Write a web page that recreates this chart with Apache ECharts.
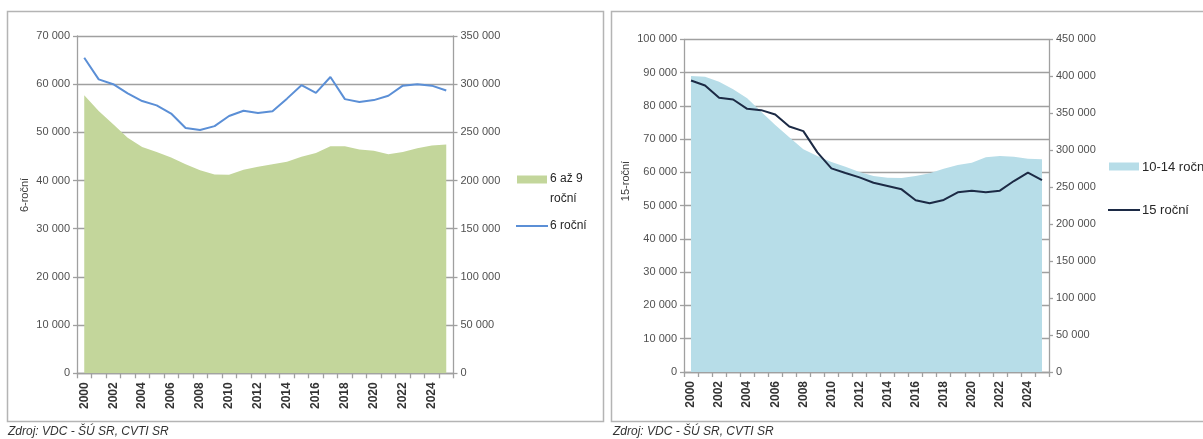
<!DOCTYPE html>
<html>
<head>
<meta charset="utf-8">
<script src="https://cdn.jsdelivr.net/npm/echarts@6/dist/echarts.min.js"></script>
<style>
html,body{margin:0;padding:0;background:#fff;}
#c{width:1203px;height:439px;}
</style>
</head>
<body>
<div id="c"></div>
<script>
// ---- data ----
var years = ['2000','2001','2002','2003','2004','2005','2006','2007','2008','2009','2010','2011','2012','2013','2014','2015','2016','2017','2018','2019','2020','2021','2022','2023','2024','2025'];
// left chart
var sixYear = [65500, 61000, 60000, 58100, 56500, 55600, 53900, 50900, 50500, 51300, 53400, 54500, 54000, 54400, 57000, 59800, 58200, 61500, 56900, 56300, 56700, 57600, 59700, 60000, 59700, 58700];
var sixToNine = [288500, 272200, 258500, 244300, 234900, 229700, 223900, 217000, 210800, 206300, 205900, 211100, 214200, 217000, 219400, 224600, 228700, 235600, 235600, 232200, 230800, 227300, 229700, 233600, 236400, 237400];
// right chart
var fifteenYear = [87600, 86100, 82400, 81900, 79100, 78700, 77400, 73800, 72400, 66000, 61200, 59800, 58500, 56900, 55900, 54900, 51600, 50700, 51700, 54000, 54500, 54000, 54500, 57400, 59900, 57700];
var tenToFourteen = [400400, 399400, 392700, 382300, 370200, 352100, 334100, 317400, 301200, 292200, 284000, 277700, 270500, 265100, 262800, 262400, 265100, 268700, 275000, 280000, 283100, 290400, 292200, 291200, 288500, 287700];
var seriesNames = ['6 až 9 roční', '6 roční', '10-14 roční', '15 roční'];
var axisNames = ['6-roční', '15-roční'];
var sourceText = 'Zdroj: VDC - ŠÚ SR, CVTI SR';

var FONT = '"Liberation Sans", Arial, sans-serif';
var GRID_C = '#a0a0a0';
function fmt(v){ return v === 0 ? '0' : String(v).replace(/\B(?=(\d{3})+(?!\d))/g, ' '); }

function xAx(gi){
  return {
    type:'category', gridIndex:gi, data:years, boundaryGap:true,
    axisLine:{show:true, lineStyle:{color:GRID_C, width:1.3}},
    axisTick:{show:true, interval:0, length:5, lineStyle:{color:GRID_C, width:1.3}},
    axisLabel:{interval:1, rotate:90, margin:9, color:'#333', fontFamily:FONT, fontSize:12, fontWeight:'bold'},
    splitLine:{show:false}
  };
}
function yAx(gi, max, interval, pos, split){
  return {
    type:'value', gridIndex:gi, min:0, max:max, interval:interval, position:pos,
    axisLine:{show:true, lineStyle:{color:GRID_C, width:1.3}},
    axisTick:{show:true, length:4, lineStyle:{color:GRID_C, width:1.3}},
    axisLabel:{formatter:fmt, color:'#505050', fontFamily:FONT, fontSize:11, margin:7},
    splitLine:{show:split, lineStyle:{color:GRID_C, width:1.3}}
  };
}

var chart = echarts.init(document.getElementById('c'), null, {renderer:'canvas'});
var option = {
  backgroundColor:'#fff',
  animation:false,
  grid:[
    {left:77, top:36, width:376.5, height:337.3},
    {left:684, top:39.3, width:365, height:332.7}
  ],
  xAxis:[xAx(0), xAx(1)],
  yAxis:[
    yAx(0, 70000, 10000, 'left', true),
    yAx(0, 350000, 50000, 'right', false),
    yAx(1, 100000, 10000, 'left', true),
    yAx(1, 450000, 50000, 'right', false)
  ],
  series:[
    {name:seriesNames[0], type:'line', xAxisIndex:0, yAxisIndex:1, data:sixToNine, symbol:'none',
     lineStyle:{width:0}, areaStyle:{color:'#c3d69b', opacity:1}, z:2},
    {name:seriesNames[1], type:'line', xAxisIndex:0, yAxisIndex:0, data:sixYear, symbol:'none',
     lineStyle:{width:2, color:'#5b8fd6'}, z:3},
    {name:seriesNames[2], type:'line', xAxisIndex:1, yAxisIndex:3, data:tenToFourteen, symbol:'none',
     lineStyle:{width:0}, areaStyle:{color:'#b7dde8', opacity:1}, z:2},
    {name:seriesNames[3], type:'line', xAxisIndex:1, yAxisIndex:2, data:fifteenYear, symbol:'none',
     lineStyle:{width:2, color:'#1c2a45'}, z:3}
  ],
  graphic:[
    // panel borders
    {type:'rect', shape:{x:7.5, y:11.5, width:596, height:410}, style:{fill:'none', stroke:'#b4b4b4', lineWidth:1.5}, z:0},
    {type:'rect', shape:{x:611.5, y:11.5, width:620, height:410}, style:{fill:'none', stroke:'#b4b4b4', lineWidth:1.5}, z:0},
    // axis names
    {type:'text', x:25, y:195, rotation:Math.PI/2, style:{text:axisNames[0], fill:'#404040', font:'11px ' + FONT, textAlign:'center', textVerticalAlign:'middle'}},
    {type:'text', x:626, y:181, rotation:Math.PI/2, style:{text:axisNames[1], fill:'#404040', font:'11px ' + FONT, textAlign:'center', textVerticalAlign:'middle'}},
    // left legend
    {type:'rect', shape:{x:517, y:175.5, width:30, height:8}, style:{fill:'#c3d69b'}},
    {type:'text', x:550, y:179, style:{text:'6 až 9', fill:'#262626', font:'12px ' + FONT, textVerticalAlign:'middle'}},
    {type:'text', x:550, y:199, style:{text:'roční', fill:'#262626', font:'12px ' + FONT, textVerticalAlign:'middle'}},
    {type:'line', shape:{x1:516, y1:226, x2:548, y2:226}, style:{stroke:'#5b8fd6', lineWidth:2}},
    {type:'text', x:550, y:226, style:{text:seriesNames[1], fill:'#262626', font:'12px ' + FONT, textVerticalAlign:'middle'}},
    // right legend
    {type:'rect', shape:{x:1109, y:162.5, width:30, height:8}, style:{fill:'#b7dde8'}},
    {type:'text', x:1142, y:167, style:{text:seriesNames[2], fill:'#262626', font:'13px ' + FONT, textVerticalAlign:'middle'}},
    {type:'line', shape:{x1:1108, y1:210, x2:1140, y2:210}, style:{stroke:'#1c2a45', lineWidth:2}},
    {type:'text', x:1142, y:210, style:{text:seriesNames[3], fill:'#262626', font:'13px ' + FONT, textVerticalAlign:'middle'}},
    // source
    {type:'text', x:8, y:432, style:{text:sourceText, fill:'#333', font:'italic 12px ' + FONT, textVerticalAlign:'middle'}},
    {type:'text', x:613, y:432, style:{text:sourceText, fill:'#333', font:'italic 12px ' + FONT, textVerticalAlign:'middle'}}
  ]
};
chart.setOption(option);
</script>
</body>
</html>
